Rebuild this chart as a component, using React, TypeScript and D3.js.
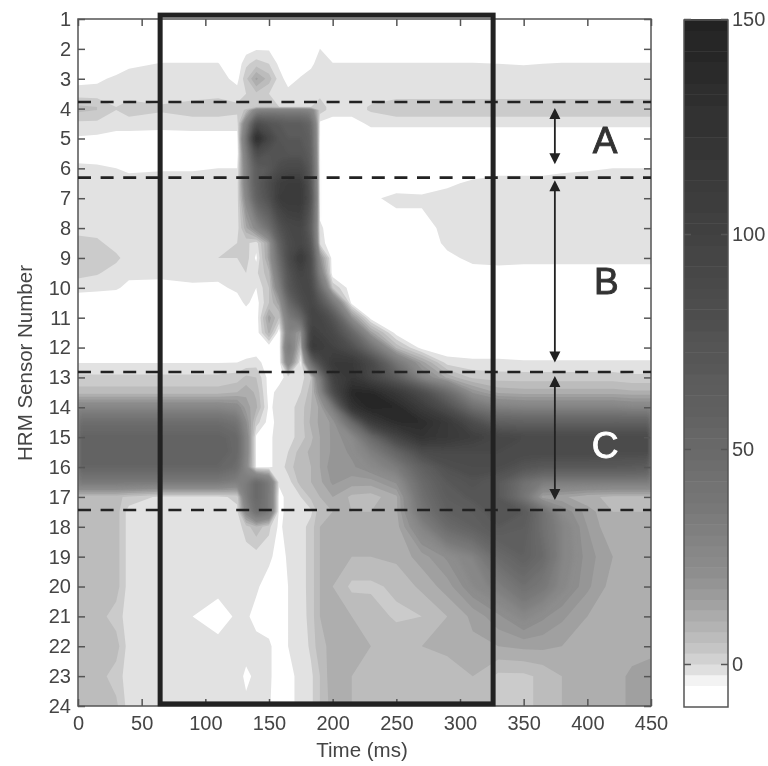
import React, { useEffect, useRef } from "react";
import * as d3 from "d3";

const timeCols = [0, 15, 30, 40, 65, 90, 110, 125, 132, 140, 150, 158, 165, 175, 183, 190, 200, 215, 230, 250, 270, 290, 310, 330, 350, 365, 380, 400, 420, 435, 450];
const sensorRows = [1, 2, 2.5, 3, 3.5, 3.95, 4.05, 4.5, 5, 5.5, 6, 6.5, 7, 8, 8.5, 9, 9.5, 10, 10.5, 11, 11.5, 12, 12.5, 13, 13.5, 14, 14.5, 15, 15.5, 16, 16.5, 17, 17.5, 18, 19, 20, 21, 22, 23, 24];

// pressure per sensor row (one value per time column)
const s1 = [-6, -6, -6, -6, -6, -6, -6, -6, -6, -6, -6, -6, -6, -6, -6, -6, -6, -6, -6, -6, -6, -6, -6, -6, -6, -6, -6, -6, -6, -6, -6];
const s2 = [-6, -6, -6, -6, -6, -6, -6, -6, -5, -3.5, -3.5, -5, -6, -6, -6, -3, -6, -6, -6, -6, -6, -6, -6, -6, -6, -6, -6, -6, -6, -6, -6];
const s2h = [-6, -6, -6, -4, -2.8, -2.8, -2.8, -6, 0, 3, 1, -4, -6, -6, -4, -1, -2.8, -2.8, -2.8, -2.8, -2.8, -2.8, -2.8, -3, -3.2, -3, -2.8, -2.8, -2.8, -2.8, -2.8];
const s3 = [-4.5, -4, -2, -1, -1, -1, -1, -4.5, 4, 14, 7, -1, -5, -2.5, -1, -1, -1, -1, -1, -1, -1, -1, -1, -1, -1, -1, -1, -1, -1, -1, -1];
const s3h = [-1, -1, -1, -1, -1, -1, 0, -1, 1, 4, 1, -1, -1.5, -1, -1, 0, -1, -1, -1, -1, -1, -1, -1, -1, -1, -1, -1, -1, -1, -1, -1];
const s4a = [6, 5, 1, 3, 1.5, 3, 3, 2, 3, 3, 2, 1, 1, 1, 1, 3, -1, -1, 1.5, 4, 4, 4, 4, 4, 4, 4, 4, 4, 4, 4, 4];
const s4b = [6, 5, 1, 3, 1.5, 3, 3, 2, 6, 28, 32, 32, 32, 32, 28, 3, -1, -1, 1.5, 4, 4, 4, 4, 4, 4, 4, 4, 4, 4, 4, 4];
const s4h = [0, 0, -1, -1, -1.5, -1, -1, -1, 30, 85, 75, 70, 65, 65, 55, -4, -5, -5, -2, -2, -2, -2, -2, -2, -2, -2, -2, -2, -2, -2, -2];
const s5 = [-3.5, -4, -5, -5, -5, -5, -5, -5, 45, 140, 95, 75, 70, 70, 60, -5, -6, -6, -6, -6, -6, -6, -6, -6, -6, -6, -6, -6, -6, -6, -6];
const s5h = [-6, -6, -6, -6, -6, -6, -6, -6, 35, 85, 75, 75, 75, 75, 65, -6, -6, -6, -6, -6, -6, -6, -6, -6, -6, -6, -6, -6, -6, -6, -6];
const s6 = [-1.5, -2, -3, -4, -3.5, -3.5, -3, -3, 30, 65, 70, 85, 90, 90, 70, -6, -6, -6, -6, -6, -6, -6, -6, -5, -5, -5, -4, -3.5, -3, -3, -3];
const s6h = [-1, -1, -1, -1, -1, -1, -1, -1, 30, 65, 85, 105, 110, 110, 75, -6, -6, -6, -6, -6, -6, -4, -2, -1, -1, -1, -1, -1, -1, -1, -1];
const s7 = [-1, -1, -1, -1, -1, -1, -1, -1, 25, 60, 80, 110, 115, 115, 80, -6, -6, -6, -4, -1.5, -2, -1, -1, -1, -1, -1, -1, -1, -1, -1, -1];
const s8 = [-1, -1, -1, -1, -1, -1, -1, -1, 12, 25, 45, 75, 90, 95, 65, -2, -6, -6, -6, -6, -5, -1.5, -1, -1, -1, -1, -1, -1, -1, -1, -1];
const s8h = [3, 2, -1, -1, -1, -1, -1, 1, 2, -1, 15, 60, 85, 95, 75, -1, -6, -6, -6, -6, -6, -2, -1, -1, -1, -1, -1, -1, -1, -1, -1];
const s9 = [4, 4, 2, -1, -1, 1, 1, 1, 3, -4, 15, 50, 85, 115, 85, 20, -6, -6, -6, -6, -6, -4, -2, -1, -1.5, -1.5, -1.5, -1.5, -1.5, -1.5, -1.5];
const s9h = [2.5, 1.5, -1, -2, -1.5, -1, -1.5, -1, 1, 0, 8, 40, 75, 100, 85, 30, -6, -6, -6, -6, -6, -6, -4.5, -5, -5, -5, -5, -5, -5, -5, -5];
const s10 = [-1.5, -2, -2.5, -4, -5, -4, -4, -2, 0, -3, 5, 30, 70, 90, 90, 50, 5, -6, -6, -6, -6, -6, -6, -6, -6, -6, -6, -6, -6, -6, -6];
const s10h = [-6, -6, -6, -6, -6, -6, -6, -5, -2, -5, 5, 15, 50, 80, 95, 75, 40, -5, -6, -6, -6, -6, -6, -6, -6, -6, -6, -6, -6, -6, -6];
const s11 = [-6, -6, -6, -6, -6, -6, -6, -6, -6, -6, 15, 5, 35, 50, 95, 95, 75, 20, -5, -6, -6, -6, -6, -6, -6, -6, -6, -6, -6, -6, -6];
const s11h = [-6, -6, -6, -6, -6, -6, -6, -6, -6, -6, 10, -6, 30, 15, 105, 100, 90, 55, 15, -5, -6, -6, -6, -6, -6, -6, -6, -6, -6, -6, -6];
const s12 = [-6, -6, -6, -6, -6, -6, -6, -6, -6, -6, -6, -6, 40, 5, 115, 110, 100, 80, 45, 8, -5, -6, -6, -6, -6, -6, -6, -6, -6, -6, -6];
const s12h = [-3.2, -3.2, -3.2, -3.2, -3.2, -3.2, -3.2, -3, -2, -1, -6, -6, 30, -4, 50, 85, 115, 115, 90, 40, 15, -1, -2, -2, -2.5, -2.5, -2.5, -2.5, -2.5, -2.5, -2.5];
const s13 = [2, 2, 2, 2, 2, 2, 2, 3, 6, 5, -5, -5, -1, -1, 5, 35, 100, 120, 95, 65, 28, 12, 4, 3, 3, 3, 3, 3, 3, 2, 2];
const s13h = [7, 7, 7, 7, 7, 7, 7, 9, 12, 8, -5, -1, -1, 1, 7, 25, 85, 140, 140, 115, 85, 50, 20, 12, 11, 11, 11, 11, 11, 10, 10];
const s14 = [28, 28, 28, 28, 28, 28, 28, 25, 15, 10, -4, -1, -1, 3, 9, 14, 35, 125, 145, 140, 110, 80, 45, 32, 30, 30, 30, 30, 30, 28, 28];
const s14h = [48, 48, 48, 48, 48, 48, 48, 42, 22, 3, -5, -1, -1, 3, 10, 14, 18, 50, 110, 135, 135, 115, 85, 62, 60, 60, 60, 60, 60, 60, 60];
const s15 = [58, 58, 58, 58, 58, 58, 58, 52, 28, -4, -4, -1, -1, 3, 8, 13, 18, 25, 50, 95, 125, 115, 105, 95, 90, 90, 90, 90, 90, 90, 90];
const s15h = [60, 60, 60, 60, 60, 60, 60, 52, 28, -4, -4, -1, 1, 7, 10, 13, 18, 22, 32, 55, 85, 90, 90, 90, 88, 88, 88, 88, 85, 85, 85];
const s16 = [55, 55, 55, 55, 55, 55, 55, 48, 25, -3.5, -3.5, -2, 3, 8, 9, 13, 20, 20, 25, 35, 60, 80, 85, 85, 75, 70, 70, 70, 70, 68, 65];
const s16h = [38, 38, 38, 38, 38, 38, 38, 32, 35, 52, 38, -2, -1, 7, 9, 12, 18, 15, 15, 22, 50, 70, 78, 70, 45, 35, 35, 35, 35, 35, 35];
const s17 = [6, 6, 6, 4, 0, 0, 0, 2, 35, 52, 38, -5, -1, 1, 6, 9, 13, 8, 7, 12, 45, 65, 72, 70, 40, 15, 14, 10, 8, 8, 8];
const s17h = [7, 7, 7, -1, -1, -1, -1, 0, 25, 48, 38, -5, -1, -1, 0, 8, 9, 9, 9, 12, 40, 60, 65, 75, 70, 45, 25, 15, 9, 9, 9];
const s18 = [7, 7, 7, -1, -1, -1, -1, -1, 3, 8, 2, -4, -1, -1, 3, 9, 9, 9, 9, 11, 30, 50, 60, 70, 65, 45, 30, 17, 9, 9, 9];
const s19 = [7, 7, 7, -1, -1, -1, -1, -1, -1, -1, -1.5, -6, -2, -1, 3, 9, 9, 9, 9, 10, 15, 22, 30, 50, 60, 50, 30, 19, 13, 12, 13];
const s20 = [7, 7, 7, -1, -1, -1, -1, -1, -1, -2, -6, -6, -3, -1, 3, 9, 9, 4, 4, 6, 10, 15, 25, 33, 45, 38, 27, 18, 11, 10, 11];
const s21 = [7, 7, 3, -1, -1, -3, -6, -2, -2, -5, -6, -6, -3, -1.5, 3, 9, 9, 9, 8, 4, 5, 9, 14, 20, 27, 22, 18, 13, 11, 11, 11];
const s22 = [7, 7, 7, -1, -1, -1, -1, -1, -1, -1, -2, -6, -3, -2, 2, 8, 10, 9, 9, 9, 9, 10, 12, 13, 14, 14, 13, 11, 11, 11, 11];
const s23 = [7, 7, 3, -1, -1, -3, -3, -1, -4, -2, -2, -6, -5, -1, 0, 5, 12, 9, 8, 8, 5, 7, 9, 4, 4, 6, 9, 11, 11, 14, 16];
const s24 = [7, 7, 6, -1, -1, -1, -1, -1, -2, -2, -2.5, -6, -5, -1, 0, 5, 11, 9, 8, 8, 5, 7, 9, 4, 4, 6, 9, 11, 11, 14, 16];

const pressure = [s1, s2, s2h, s3, s3h, s4a, s4b, s4h, s5, s5h, s6, s6h, s7, s8, s8h, s9, s9h, s10, s10h, s11, s11h, s12, s12h, s13, s13h, s14, s14h, s15, s15h, s16, s16h, s17, s17h, s18, s19, s20, s21, s22, s23, s24];

const bandLevels = [-3, 1, 5, 9, 13, 17, 21, 25, 30, 35, 40, 45, 50, 55, 60, 65, 70, 75, 80, 85, 90, 95, 100, 105, 110, 115, 120, 125, 130, 135, 140, 145];
const softFrom = 25; // bands from here on are drawn soft, like the scan
const colorbarLevels = d3.range(-10, 150, 2.5);
const colorbarTicks = [0, 50, 100, 150];
const timeTicks = [0, 50, 100, 150, 200, 250, 300, 350, 400, 450];
const sensorTicks = d3.range(1, 25);

const dividers = [3.78, 6.31, 12.82, 17.44];
const arrowSpans = [[3.98, 5.86], [6.4, 12.5], [12.95, 17.1]];
const arrowTime = 374.5;
const windowTimes = [64.5, 326];
const windowSensors = [0.87, 23.93];
const zoneLabels = [
  { text: "A", time: 414, sensor: 5.47, color: "#333" },
  { text: "B", time: 415, sensor: 10.2, color: "#333" },
  { text: "C", time: 414, sensor: 15.7, color: "#fff" },
];

const FONT = "'Liberation Sans', Arial, sans-serif";
const TEXT = "#444";

const grayAt = d3
  .scaleLinear<string>()
  .domain([-6.5, -3, 1, 5, 9, 13, 20, 35, 50, 75, 100, 150])
  .range(["#ffffff", "#e2e2e2", "#cbcbcb", "#bcbcbc", "#aeaeae", "#a0a0a0", "#8e8e8e", "#787878", "#686868", "#525252", "#404040", "#222222"])
  .clamp(true);

const App = () => {
  const svgRef = useRef<SVGSVGElement>(null);

  useEffect(() => {
    const svg = d3.select(svgRef.current);
    svg.selectAll("*").remove();

    const x = d3.scaleLinear().domain([0, 450]).range([78, 651]);
    const y = d3.scaleLinear().domain([1, 24]).range([19, 706]);
    const barY = d3.scaleLinear().domain([-10, 150]).range([707, 19]);

    const defs = svg.append("defs");
    const addBlur = (id, amount) =>
      defs
        .append("filter")
        .attr("id", id)
        .attr("filterUnits", "userSpaceOnUse")
        .attr("x", 0)
        .attr("y", 0)
        .attr("width", 768)
        .attr("height", 766)
        .append("feGaussianBlur")
        .attr("stdDeviation", amount);
    addBlur("scan", 0.6);
    addBlur("soft", 2);

    const root = svg.append("g").attr("filter", "url(#scan)");

    // filled contours on the uneven time / sensor grid
    const nx = timeCols.length;
    const ny = sensorRows.length;
    const timeAt = d3.scaleLinear().domain(d3.range(nx)).range(timeCols).clamp(true);
    const sensorAt = d3.scaleLinear().domain(d3.range(ny)).range(sensorRows).clamp(true);
    const toScreen = d3.geoTransform({
      point(px, py) {
        this.stream.point(x(timeAt(px - 0.5)), y(sensorAt(py - 0.5)));
      },
    });
    const contourPath = d3.geoPath(toScreen);
    const bands = d3.contours().size([nx, ny]).thresholds(bandLevels)(d3.merge(pressure));

    root
      .append("g")
      .selectAll("path")
      .data(bands.filter((d) => d.value < softFrom))
      .join("path")
      .attr("d", (d) => contourPath(d))
      .attr("fill", (d) => grayAt(d.value));

    // clip keeps the soft bands from bleeding out of the plot
    defs
      .append("clipPath")
      .attr("id", "plotArea")
      .append("rect")
      .attr("x", 78)
      .attr("y", 19)
      .attr("width", 573)
      .attr("height", 687);
    root
      .append("g")
      .attr("clip-path", "url(#plotArea)")
      .append("g")
      .attr("filter", "url(#soft)")
      .selectAll("path")
      .data(bands.filter((d) => d.value >= softFrom))
      .join("path")
      .attr("d", (d) => contourPath(d))
      .attr("fill", (d) => grayAt(d.value));

    // plot frame and axes
    root
      .append("rect")
      .attr("x", 78)
      .attr("y", 19)
      .attr("width", 573)
      .attr("height", 687)
      .attr("fill", "none")
      .attr("stroke", "#555")
      .attr("stroke-width", 1.5);

    const styleAxis = (g, showText) => {
      g.select(".domain").remove();
      g.selectAll(".tick line").attr("stroke", "#555").attr("stroke-width", 1.5);
      g.selectAll(".tick text")
        .attr("fill", TEXT)
        .style("font-family", FONT)
        .style("font-size", "20px")
        .style("display", showText ? null : "none");
    };

    root
      .append("g")
      .attr("transform", "translate(0,706)")
      .call(d3.axisBottom(x).tickValues(timeTicks).tickSizeInner(-7).tickSizeOuter(0).tickPadding(10))
      .call(styleAxis, true);
    root
      .append("g")
      .attr("transform", "translate(0,19)")
      .call(d3.axisTop(x).tickValues(timeTicks).tickSizeInner(-7).tickSizeOuter(0))
      .call(styleAxis, false);
    root
      .append("g")
      .attr("transform", "translate(78,0)")
      .call(d3.axisLeft(y).tickValues(sensorTicks).tickFormat(d3.format("d")).tickSizeInner(-7).tickSizeOuter(0).tickPadding(7))
      .call(styleAxis, true);
    root
      .append("g")
      .attr("transform", "translate(651,0)")
      .call(d3.axisRight(y).tickValues(sensorTicks).tickSizeInner(-7).tickSizeOuter(0))
      .call(styleAxis, false);

    root
      .append("text")
      .attr("x", 362)
      .attr("y", 757)
      .attr("text-anchor", "middle")
      .attr("fill", TEXT)
      .style("font-family", FONT)
      .style("font-size", "20.5px")
      .text("Time (ms)");
    root
      .append("text")
      .attr("transform", "translate(32,363) rotate(-90)")
      .attr("text-anchor", "middle")
      .attr("fill", TEXT)
      .style("font-family", FONT)
      .style("font-size", "20.5px")
      .text("HRM Sensor Number");

    // dashed zone dividers
    root
      .append("g")
      .selectAll("line")
      .data(dividers)
      .join("line")
      .attr("x1", x(0))
      .attr("x2", x(450))
      .attr("y1", (d) => y(d))
      .attr("y2", (d) => y(d))
      .attr("stroke", "#222")
      .attr("stroke-width", 2.6)
      .attr("stroke-dasharray", "13 9.6");

    // thick analysis window
    root
      .append("rect")
      .attr("x", x(windowTimes[0]))
      .attr("y", y(windowSensors[0]))
      .attr("width", x(windowTimes[1]) - x(windowTimes[0]))
      .attr("height", y(windowSensors[1]) - y(windowSensors[0]))
      .attr("fill", "none")
      .attr("stroke", "#222")
      .attr("stroke-width", 5);

    // double headed arrows
    const ax = x(arrowTime);
    arrowSpans.forEach(([from, to]) => {
      const y0 = y(from);
      const y1 = y(to);
      root
        .append("line")
        .attr("x1", ax)
        .attr("x2", ax)
        .attr("y1", y0 + 5)
        .attr("y2", y1 - 5)
        .attr("stroke", "#222")
        .attr("stroke-width", 1.8);
      root
        .append("path")
        .attr("d", `M${ax},${y0}l5.5,11h-11Z M${ax},${y1}l5.5,-11h-11Z`)
        .attr("fill", "#222");
    });

    // zone letters
    root
      .append("g")
      .selectAll("text")
      .data(zoneLabels)
      .join("text")
      .attr("x", (d) => x(d.time))
      .attr("y", (d) => y(d.sensor))
      .attr("text-anchor", "middle")
      .attr("fill", (d) => d.color)
      .attr("stroke", (d) => d.color)
      .attr("stroke-width", 0.9)
      .style("font-family", FONT)
      .style("font-size", "37px")
      .text((d) => d.text);

    // colorbar
    root
      .append("g")
      .selectAll("rect")
      .data(colorbarLevels)
      .join("rect")
      .attr("x", 684)
      .attr("width", 44)
      .attr("y", (d) => barY(d + 2.5))
      .attr("height", barY(0) - barY(2.5) + 0.5)
      .attr("fill", (d) => grayAt(d));
    root
      .append("rect")
      .attr("x", 684)
      .attr("y", 20)
      .attr("width", 44)
      .attr("height", 687)
      .attr("fill", "none")
      .attr("stroke", "#555")
      .attr("stroke-width", 1.5);

    root
      .append("g")
      .attr("transform", "translate(728,0)")
      .call(d3.axisRight(barY).tickValues(colorbarTicks).tickSizeInner(-7).tickSizeOuter(0).tickPadding(4))
      .call(styleAxis, true);
    root
      .append("g")
      .attr("transform", "translate(684,0)")
      .call(d3.axisLeft(barY).tickValues(colorbarTicks).tickSizeInner(-7).tickSizeOuter(0))
      .call(styleAxis, false);
  }, []);

  return (
    <svg
      ref={svgRef}
      width={768}
      height={766}
      style={{ position: "absolute", left: 0, top: 0, background: "#fff" }}
    />
  );
};

export default App;
